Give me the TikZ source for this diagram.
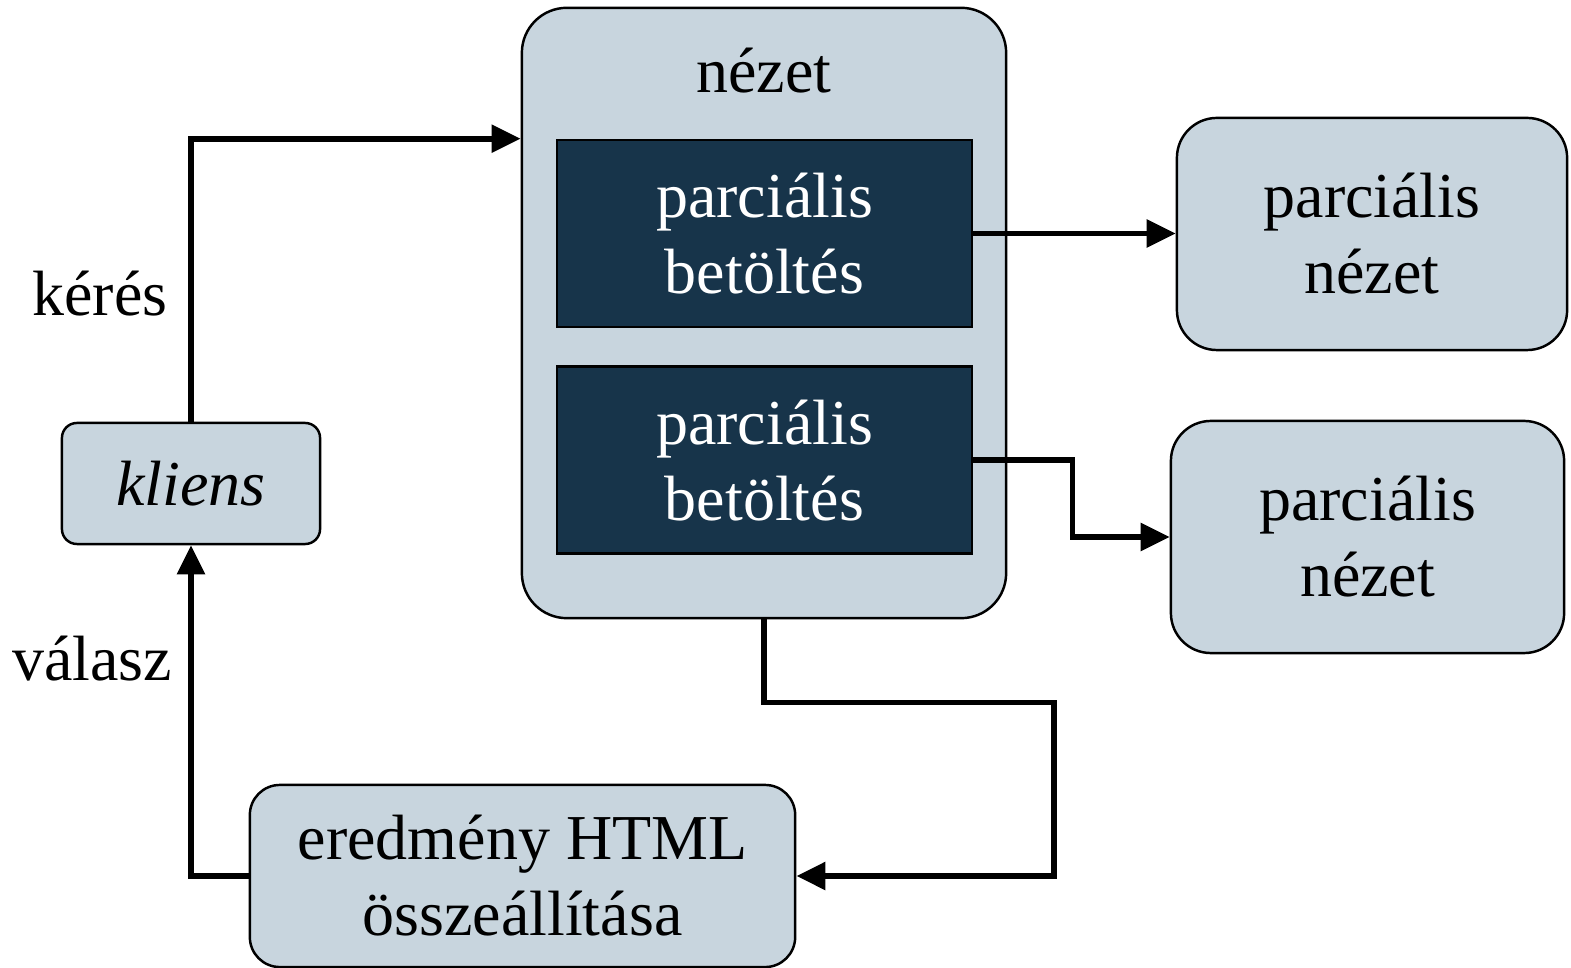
\documentclass[tikz,border=0pt]{standalone}
\usepackage{fontspec}
\setmainfont{Liberation Serif}
\usepackage{xcolor}
\usepackage{tikz}
\usetikzlibrary{arrows.meta,positioning,calc}
\definecolor{boxfill}{HTML}{C8D5DE}
\definecolor{navy}{HTML}{17344A}

\begin{document}
\begin{tikzpicture}[x=0.01cm, y=-0.01cm,
    box/.style={rectangle, draw, line width=0.7pt, fill=boxfill, align=center, inner sep=0pt, font=\fontsize{18.2}{21.6}\selectfont},
    part/.style={rectangle, draw, line width=0.7pt, fill=navy, text=white, align=center, inner sep=0pt, minimum width=4.15cm, minimum height=1.87cm, font=\fontsize{18.2}{21.6}\selectfont},
    label/.style={font=\fontsize{18.2}{21.6}\selectfont},
    arrow/.style={line width=1.6pt, -{Triangle[length=0.29cm, width=0.27cm]}}]
    \useasboundingbox (0,0) rectangle (1571,968);

    \node[box, rounded corners=0.45cm, minimum width=4.84cm, minimum height=6.10cm] (nezet) at (764,313) {};
    \node[label, anchor=base] (nezettitle) at (764,93) {nézet};
    \node[part] (betolt1) at (764.5,233.5) {parciális\\betöltés};
    \node[part, below=0.37cm of betolt1] (betolt2) {parciális\\betöltés};

    \node[box, rounded corners=0.15cm, minimum width=2.58cm, minimum height=1.21cm] (kliens) at (191,483.5) {\textit{kliens}};
    \node[box, rounded corners=0.40cm, minimum width=3.90cm, minimum height=2.32cm] (reszlet1) at (1372,234) {parciális\\nézet};
    \node[box, rounded corners=0.40cm, minimum width=3.93cm, minimum height=2.32cm] (reszlet2) at (1367.5,537) {parciális\\nézet};
    \node[box, rounded corners=0.30cm, minimum width=5.45cm, minimum height=1.82cm] (html) at (522.5,876) {eredmény HTML\\összeállítása};

    \node[label] (keres) at (100,294) {kérés};
    \node[label] (valasz) at (92,659) {válasz};

    % connections
    \draw[arrow] (kliens.north) |- (betolt1.north -| nezet.west);
    \draw[arrow] (betolt1.east) -- (betolt1.east -| reszlet1.west);
    \draw[arrow] (betolt2.east) -- ++(99,0) |- (reszlet2.west);
    \draw[arrow] (nezet.south) |- ++(290,83) |- (html.east);
    \draw[arrow] (html.west) -| (kliens.south);

\end{tikzpicture}
\end{document}
